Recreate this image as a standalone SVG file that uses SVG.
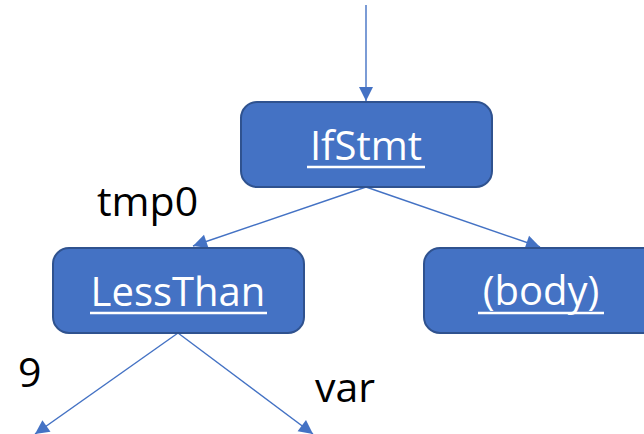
<svg xmlns="http://www.w3.org/2000/svg" width="644" height="434" viewBox="0 0 644 434">
<style>
.box{fill:#4472C4;stroke:#2F528F;stroke-width:2}
.lbl{font-family:"Open Sans","Liberation Sans",sans-serif;font-size:40px;fill:#fff;text-anchor:middle}
.ul{stroke:#fff;stroke-width:2.5}
.edge{stroke:#4472C4;stroke-width:1.4;fill:none;marker-end:url(#ah)}
.t{font-family:"Open Sans","Liberation Sans",sans-serif;font-size:41px;fill:#000}
</style>
<defs>
<marker id="ah" markerUnits="userSpaceOnUse" markerWidth="16" markerHeight="16" viewBox="0 0 16 16" refX="15" refY="8" orient="auto">
<path d="M1,1 L15,8 L1,15 Z" fill="#4472C4"/>
</marker>
</defs>
<g id="edges">
<line class="edge" x1="366" y1="5" x2="366" y2="101"/>
<line class="edge" x1="366" y1="187" x2="193" y2="246"/>
<line class="edge" x1="366" y1="187" x2="540" y2="247"/>
<line class="edge" x1="178" y1="333" x2="35" y2="434"/>
<line class="edge" x1="178" y1="333" x2="313" y2="434"/>
</g>
<g id="ifstmt">
<rect class="box" x="241" y="102" width="251" height="85" rx="16"/>
<text class="lbl" x="366" y="160">IfStmt</text>
<line class="ul" x1="307" y1="167" x2="425" y2="167"/>
</g>
<g id="lessthan">
<rect class="box" x="53" y="248" width="251" height="85" rx="16"/>
<text class="lbl" x="178" y="306">LessThan</text>
<line class="ul" x1="90" y1="313" x2="267" y2="313"/>
</g>
<g id="body">
<rect class="box" x="424" y="248" width="240" height="85" rx="16"/>
<text class="lbl" x="541" y="305">(body)</text>
<line class="ul" x1="478" y1="313" x2="604" y2="313"/>
</g>
<g id="labels">
<text class="t" x="97" y="216">tmp0</text>
<text class="t" x="18" y="387">9</text>
<text class="t" x="315" y="402">var</text>
</g>
</svg>
